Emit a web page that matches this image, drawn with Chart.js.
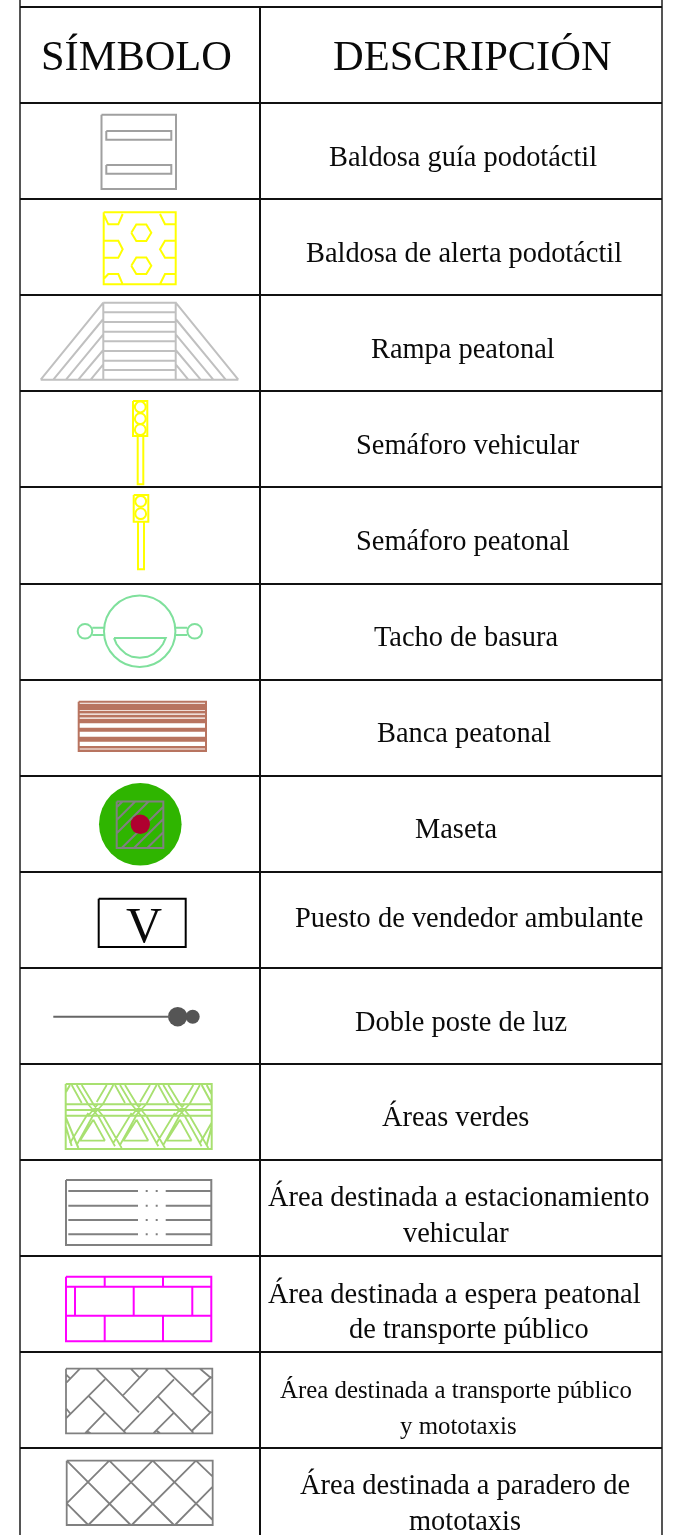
<!DOCTYPE html>
<html>
<head>
<meta charset="utf-8">
<style>
  html, body { margin: 0; padding: 0; background: #fff; }
  canvas { display: block; }
</style>
<script src="https://cdn.jsdelivr.net/npm/chart.js@4/dist/chart.umd.min.js"></script>
</head>
<body>
<canvas id="tabla" width="684" height="1535"></canvas>
<script>
// ---------- textos de la tabla [texto, x, linea base, tamaño] ----------
const encabezados = [
  ['SÍMBOLO', 41, 70, 42.4],
  ['DESCRIPCIÓN', 333, 70, 42.5]
];
const descripciones = [
  ['Baldosa guía podotáctil', 329, 166, 28.4],
  ['Baldosa de alerta podotáctil', 306, 262, 28.4],
  ['Rampa peatonal', 371, 358, 28.4],
  ['Semáforo vehicular', 356, 454, 28.4],
  ['Semáforo peatonal', 356, 550, 28.4],
  ['Tacho de basura', 374, 646, 28.4],
  ['Banca peatonal', 377, 742, 28.4],
  ['Maseta', 415, 838, 28.4],
  ['Puesto de vendedor ambulante', 295, 927, 28.45],
  ['Doble poste de luz', 355, 1031, 28.4],
  ['Áreas verdes', 382, 1126, 28.4],
  ['Área destinada a estacionamiento', 268, 1206, 28.45],
  ['vehicular', 403, 1242, 28.4],
  ['Área destinada a espera peatonal', 268, 1303, 28.45],
  ['de transporte público', 349, 1338, 28.4],
  ['Área destinada a transporte público', 280, 1398, 24.85],
  ['y mototaxis', 400, 1434, 24.85],
  ['Área destinada a paradero de', 300, 1494, 28.45],
  ['mototaxis', 409, 1530, 28.4]
];
const letraPuesto = ['V', 126, 942, 50];

// ---------- rejilla ----------
const filasY = [7, 103, 199, 295, 391, 487, 584, 680, 776, 872, 968, 1064, 1160, 1256, 1352, 1448];
const columnasX = [20, 260, 662];

// ---------- símbolos: cada trazo es x1,y1,x2,y2,... ----------
const baldosaGuia = [
  [101.5,114.7, 176,114.7, 176,189, 101.5,189, 101.5,114.7],
  [106.3,131, 171.3,131, 171.3,139.7, 106.3,139.7, 106.3,131],
  [106.3,165, 171.3,165, 171.3,173.7, 106.3,173.7, 106.3,165]
];
const baldosaAlerta = [
  [103.7,212.3, 175.7,212.3, 175.7,284.3, 103.7,284.3, 103.7,212.3],
  [131.3,232.7, 136.3,224.4, 146.3,224.4, 151.3,232.7, 146.3,241, 136.3,241, 131.3,232.7],
  [131.3,265.7, 136.3,257.4, 146.3,257.4, 151.3,265.7, 146.3,274, 136.3,274, 131.3,265.7],
  [104,240.7, 118.3,240.7, 122.7,249.3, 118.3,257.7, 104,257.7],
  [175.7,240.7, 165,240.7, 160,249.3, 165,257.7, 175.7,257.7],
  [122.7,214, 118.3,224.3, 108.3,224.3, 104,215],
  [160,214, 165,224.3, 175.7,224.3],
  [104.3,278.3, 108.3,274, 118.3,274, 122.7,284.3],
  [160,284.3, 165,274, 175.7,274]
];
const rampa = [
  [103.3,302.7, 175.7,302.7, 175.7,379.7, 103.3,379.7, 103.3,302.7],
  [103.3,312.3, 175.7,312.3], [103.3,322, 175.7,322], [103.3,331.7, 175.7,331.7],
  [103.3,341.3, 175.7,341.3], [103.3,351, 175.7,351], [103.3,360.7, 175.7,360.7],
  [103.3,370, 175.7,370], [40.7,379.7, 238.3,379.7],
  [103.3,302.7, 40.7,379.7], [103.3,319, 53.3,379.7], [103.3,334.3, 66,379.7],
  [103.3,350, 78.3,379.7], [103.3,364.3, 90.7,379.7],
  [175.7,302.7, 238.3,379.7], [175.7,319, 225.7,379.7], [175.7,334.3, 213.3,379.7],
  [175.7,350, 200.7,379.7], [175.7,364.3, 188.3,379.7]
];
const semaforos = [
  [133,401, 147.3,401, 147.3,436, 133,436, 133,401],
  [137.7,436, 143.3,436, 143.3,484.3, 137.7,484.3, 137.7,436],
  [133.7,495, 148.3,495, 148.3,521.7, 133.7,521.7, 133.7,495],
  [138,521.7, 144,521.7, 144,569.3, 138,569.3, 138,521.7]
];
const lucesSemaforo = [
  {x:140.3, y:407}, {x:140.3, y:418.7}, {x:140.3, y:429.7},
  {x:140.7, y:501.3}, {x:140.7, y:513.7}
];
const tachoTrazos = [
  [92.3,627.7, 104,627.7], [92.3,635, 104,635],
  [175.7,627.7, 187.3,627.7], [175.7,635, 187.3,635],
  [114,638, 116.5,644, 120.5,649, 126,654, 132,656.8, 139.8,657.7, 147.5,656.8, 153.5,654, 159,649, 163,644, 165.7,638, 114,638]
];
const tachoCuerpo = [{x:139.7, y:631.3}];
const tachoAsas = [{x:85, y:631.3}, {x:194.7, y:631.3}];
const bancaMarco = [[78.7,701.7, 206,701.7, 206,751, 78.7,751, 78.7,701.7]];
const bancaListonesY = [704.5, 705.5, 706.5, 707.5, 708.5, 709.3, 711.5, 712.7, 715.5, 716.8, 719.5, 720.5, 721.5, 722.5, 728.5, 729.7, 731, 737.5, 738.7, 740, 741, 746.8, 747.8, 750.3];
const masetaMacetero = [{x:140.3, y:824.3}];
const masetaFlor = [{x:140.3, y:824.3}];
const masetaTrazos = [
  [116.7,801.5, 163.3,801.5, 163.3,848, 116.7,848, 116.7,801.5],
  [116.7,807.3, 122.3,801.7], [116.7,820, 135,801.7], [116.7,833.3, 148.3,801.7],
  [121.7,848, 163.3,806.7], [134,848, 163.3,819], [147.3,848, 163.3,832.3]
];
const puestoMarco = [[98.7,898.7, 185.7,898.7, 185.7,947, 98.7,947, 98.7,898.7]];
const posteLinea = [[53.3,1016.7, 170,1016.7]];
const posteLuzGrande = [{x:177.7, y:1016.7}];
const posteLuzChica = [{x:192.7, y:1016.7}];
const verdesMarco = [
  [65.7,1084, 211.7,1084, 211.7,1149, 65.7,1149, 65.7,1084],
  [66,1104.3, 211,1104.3], [66,1110, 211,1110], [66,1115.7, 211,1115.7],
  [70,1085, 66,1092], [66,1127, 71.7,1146], [66,1118, 78.4,1148],
  [201.7,1085, 211.5,1103], [206.7,1085, 211.5,1094],
  [211.5,1123, 200,1143], [211.5,1127, 206.7,1145]
];
const verdesMotivo = [
  [71.7,1085, 81.7,1103], [76.7,1085, 88,1104], [81.7,1085, 93.3,1104],
  [113.3,1085, 103,1104], [106.7,1085, 96.7,1102],
  [88,1104, 98,1116], [93,1104, 103,1116], [103,1104, 92,1116], [98,1104, 88,1116],
  [88.3,1113, 70,1143], [93.3,1115, 76.7,1145], [93.3,1119.7, 80,1140.7],
  [93.3,1119.7, 105,1140.7], [98.3,1116.3, 115,1146.3], [103.3,1116.3, 121.7,1148],
  [80,1140.7, 105,1140.7]
];
const verdesDesplazamientos = [0, 43.3, 86.6];
const estacionamiento = [
  [66,1180, 211.3,1180, 211.3,1245, 66,1245, 66,1180],
  [68.3,1191, 138,1191], [165.7,1191, 211.3,1191], [145.7,1191, 147.7,1191], [155.7,1191, 157.7,1191],
  [68.3,1205.7, 138,1205.7], [165.7,1205.7, 211.3,1205.7], [145.7,1205.7, 147.7,1205.7], [155.7,1205.7, 157.7,1205.7],
  [68.3,1220, 138,1220], [165.7,1220, 211.3,1220], [145.7,1220, 147.7,1220], [155.7,1220, 157.7,1220],
  [68.3,1234.3, 138,1234.3], [165.7,1234.3, 211.3,1234.3], [145.7,1234.3, 147.7,1234.3], [155.7,1234.3, 157.7,1234.3]
];
const esperaPeatonal = [
  [66,1276.7, 211.3,1276.7, 211.3,1341.3, 66,1341.3, 66,1276.7],
  [66,1286.7, 211.3,1286.7], [66,1315.7, 211.3,1315.7],
  [104.7,1276.7, 104.7,1286.7], [163,1276.7, 163,1286.7],
  [75,1286.7, 75,1315.7], [133.7,1286.7, 133.7,1315.7], [192.3,1286.7, 192.3,1315.7],
  [104.7,1315.7, 104.7,1341.3], [163,1315.7, 163,1341.3]
];
const transporteMototaxis = [
  [66,1368.7, 212.3,1368.7, 212.3,1433.3, 66,1433.3, 66,1368.7],
  [66,1374.3, 70,1378.3], [96,1368.7, 139,1412.3], [130.7,1368.7, 139.3,1377.3],
  [165,1368.7, 210,1412.3], [200,1368.7, 211.3,1378.3], [88.3,1395.7, 126,1433.3],
  [157.3,1395.7, 193.3,1432.7], [66,1408.3, 70,1413.3], [86.7,1431, 90.7,1433.3], [156.7,1430.7, 160,1433.3],
  [80,1368.7, 66.7,1382.3], [148.3,1368.7, 123.3,1395], [105,1379.3, 66,1418.3],
  [174,1379.3, 123.3,1431.7], [211.3,1376.7, 192.3,1395], [105,1412.7, 85,1433.3],
  [174,1412.7, 153.3,1433.3], [211.3,1411.7, 191.7,1431]
];
const paraderoMototaxis = [
  [66.7,1460.7, 212.7,1460.7, 212.7,1525, 66.7,1525, 66.7,1460.7],
  [66.7,1460.7, 130.7,1525], [109.3,1460.7, 174,1525], [152.7,1460.7, 212.7,1520],
  [196,1460.7, 212.7,1476.7], [66.7,1503.3, 88.3,1525],
  [109.3,1460.7, 66.7,1503.3], [152.7,1460.7, 88.3,1525], [196,1460.7, 131.7,1525], [212.7,1486.7, 175,1525]
];

// ---------- helpers ----------
// sin esto el radio del circulo grande encoge el area del grafico
Chart.registry.getController('scatter').prototype.getMaxOverflow = function() { return 0; };

function trazos(lista) {
  const puntos = [];
  lista.forEach(t => {
    for (let i = 0; i < t.length; i += 2) puntos.push({x: t[i], y: t[i + 1]});
    puntos.push({x: null, y: null});
  });
  return puntos;
}

function lineas(lista, color, ancho) {
  return {
    type: 'scatter', data: trazos(lista), showLine: true, spanGaps: false,
    borderColor: color, borderWidth: ancho, pointRadius: 0, fill: false, tension: 0
  };
}

function circulos(puntos, radio, relleno, borde, ancho) {
  return {
    type: 'scatter', data: puntos, showLine: false, pointStyle: 'circle',
    pointRadius: radio, pointHoverRadius: radio,
    backgroundColor: relleno, borderColor: borde, borderWidth: ancho
  };
}

const verdesTrazos = [];
verdesDesplazamientos.forEach(d => {
  verdesMotivo.forEach(s => verdesTrazos.push([s[0] + d, s[1], s[2] + d, s[3]]));
});

const rejilla = [];
filasY.forEach(y => rejilla.push([columnasX[0], y, columnasX[2], y]));
rejilla.push([columnasX[1], filasY[0], columnasX[1], 1535]);
const bordes = [
  [columnasX[0], 0, columnasX[0], 1535],
  [columnasX[2], 0, columnasX[2], 1535]
];

const GRIS = '#808080', AMARILLO = '#ffff00', MENTA = '#7fe09c', ANCHO = 2;

// el primer dataset queda encima
const datasets = [
  circulos(masetaFlor, 9.7, '#b00030', '#b00030', 0),
  lineas(masetaTrazos, GRIS, ANCHO),
  circulos(masetaMacetero, 41.3, '#2fb500', '#2fb500', 0),
  lineas(baldosaGuia, '#a0a0a0', ANCHO),
  lineas(baldosaAlerta, AMARILLO, ANCHO),
  lineas(rampa, '#c0c0c0', ANCHO),
  lineas(semaforos, AMARILLO, ANCHO),
  circulos(lucesSemaforo, 5.4, 'transparent', AMARILLO, ANCHO),
  lineas(tachoTrazos, MENTA, ANCHO),
  circulos(tachoCuerpo, 35.7, 'transparent', MENTA, ANCHO),
  circulos(tachoAsas, 7.3, 'transparent', MENTA, ANCHO),
  lineas(bancaMarco, '#b87460', ANCHO),
  lineas(bancaListonesY.map(y => [78.7, y, 206, y]), '#b87460', 1.5),
  lineas(puestoMarco, '#000000', ANCHO),
  lineas(posteLinea, '#666666', ANCHO),
  circulos(posteLuzGrande, 9.7, '#555555', '#555555', 0),
  circulos(posteLuzChica, 7, '#555555', '#555555', 0),
  lineas(verdesMarco, '#a8e070', ANCHO),
  lineas(verdesTrazos, '#a8e070', 1.8),
  lineas(estacionamiento, GRIS, ANCHO),
  lineas(esperaPeatonal, '#ff00ff', ANCHO),
  lineas(transporteMototaxis, GRIS, 1.8),
  lineas(paraderoMototaxis, GRIS, 1.8),
  lineas(rejilla, '#111111', ANCHO),
  lineas(bordes, '#555555', ANCHO)
];

// textos como texto real, ubicados con las escalas
const textosPlugin = {
  id: 'textos',
  afterDatasetsDraw(chart) {
    const {ctx, scales: {x, y}} = chart;
    ctx.save();
    ctx.fillStyle = '#0a0a0a';
    ctx.textAlign = 'left';
    ctx.textBaseline = 'alphabetic';
    encabezados.concat(descripciones, [letraPuesto]).forEach(t => {
      ctx.font = t[3] + 'px "Liberation Serif"';
      ctx.fillText(t[0], x.getPixelForValue(t[1]), y.getPixelForValue(t[2]));
    });
    ctx.restore();
  }
};

new Chart(document.getElementById('tabla').getContext('2d'), {
  type: 'scatter',
  data: {datasets},
  plugins: [textosPlugin],
  options: {
    responsive: false,
    animation: false,
    events: [],
    layout: {padding: 0},
    plugins: {legend: {display: false}, tooltip: {enabled: false}},
    scales: {
      x: {type: 'linear', min: 0, max: 684, display: false},
      y: {type: 'linear', min: 0, max: 1535, reverse: true, display: false}
    }
  }
});
</script>
</body>
</html>
